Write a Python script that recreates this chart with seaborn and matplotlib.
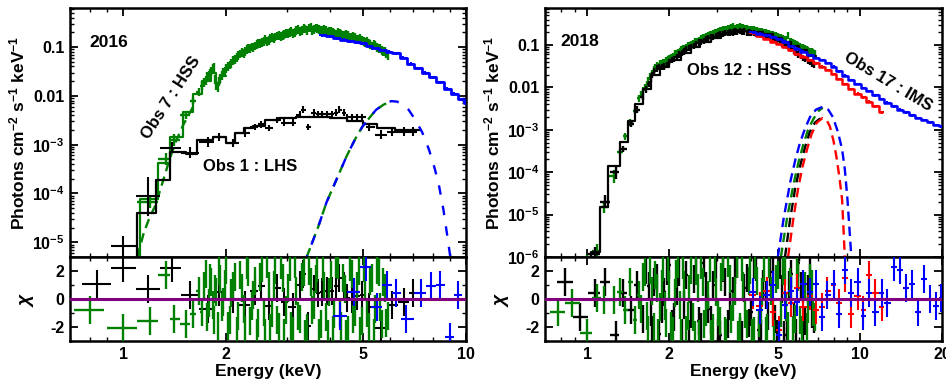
import numpy as np
import matplotlib
matplotlib.use('Agg')
import matplotlib.pyplot as plt
import seaborn as sns
from matplotlib.ticker import FixedLocator, FixedFormatter, NullFormatter, LogLocator, MultipleLocator

# ---------------- DATA : 2016 (left) ----------------
bk16_E = [0.84, 1.0, 1.18, 1.39, 1.57, 1.77, 1.91, 2.09, 2.26, 2.42, 2.53, 2.67, 2.82, 2.95, 3.12, 3.27, 3.34,
          3.47, 3.61, 3.69, 3.81, 3.94, 4.07, 4.18, 4.27, 4.41, 4.51, 4.66, 4.82, 4.98, 5.22, 5.65, 6.09, 6.6, 7.0]
bk16_F = [1e-6, 8.3e-6, 8.7e-5, 8.7e-4, 6.9e-4, 1.15e-3, 1.45e-3, 1.1e-3, 1.75e-3, 2.3e-3, 2.6e-3, 2.2e-3, 3.2e-3,
          2.8e-3, 2.8e-3, 4.1e-3, 5.2e-3, 2.3e-3, 4.5e-3, 4.2e-3, 4.2e-3, 4.2e-3, 4.2e-3, 4.5e-3, 5.2e-3, 4.5e-3,
          3.7e-3, 3.6e-3, 3.7e-3, 3.7e-3, 2.3e-3, 1.6e-3, 1.85e-3, 1.85e-3, 1.85e-3]
bk16_dex = [0.3, 0.2, 0.4, 0.12, 0.12, 0.1, 0.08, 0.08, 0.08, 0.07, 0.07, 0.07, 0.07, 0.07, 0.07, 0.07, 0.07,
            0.07, 0.07, 0.07, 0.07, 0.07, 0.07, 0.07, 0.07, 0.07, 0.07, 0.07, 0.07, 0.07, 0.08, 0.09, 0.09, 0.09, 0.09]
bk16_chi = [1.1, 2.2, 0.7, 2.2, 0.3, -0.7, 0.5, 0.0, -0.4, 0.6, 0.9, -0.5, 0.8, -0.2, -0.6, 1.0, 1.8, -1.9, 0.7,
            0.4, 0.5, 0.6, 0.6, 0.9, 1.5, 0.9, 0.1, 0.0, 0.2, 0.3, -0.6, -2.1, -0.4, -0.2, 0.4]
bk16_model_E = [1.10, 1.25, 1.37, 1.53, 1.64, 1.83, 2.00, 2.12, 2.25, 2.40, 2.60, 2.85, 3.2, 3.6, 4.0, 4.5, 5.0,
                5.5, 6.2, 7.4]
bk16_model_F = [4e-5, 1.9e-4, 7.2e-4, 6.5e-4, 1.25e-3, 1.45e-3, 1.1e-3, 1.75e-3, 2.2e-3, 2.4e-3, 3.2e-3, 3.5e-3,
                3.7e-3, 3.7e-3, 3.5e-3, 3.1e-3, 2.6e-3, 2.2e-3, 2.0e-3, 2.0e-3]

gr16_E = [0.80, 1.00, 1.20, 1.33, 1.41, 1.53, 1.60, 1.66, 1.70, 1.74, 1.78, 1.81, 1.84, 1.87, 1.90, 1.94, 1.98,
          2.02, 2.07, 2.12, 2.17, 2.22, 2.27, 2.32, 2.37, 2.42, 2.48, 2.54, 2.60, 2.66, 2.72, 2.78, 2.85, 2.92,
          2.99, 3.06, 3.13, 3.20, 3.28, 3.36, 3.44, 3.52, 3.60, 3.68, 3.77, 3.86, 3.95, 4.04, 4.13, 4.23, 4.33,
          4.43, 4.53, 4.64, 4.75, 4.86, 4.97, 5.08, 5.20, 5.32, 5.44, 5.56, 5.68, 5.80, 5.92]
gr16_F = [1e-6, 1e-6, 6.6e-5, 5e-4, 1.25e-3, 4e-3, 8e-3, 0.012, 0.016, 0.021, 0.026, 0.031, 0.038, 0.016, 0.02,
          0.026, 0.032, 0.04, 0.046, 0.055, 0.066, 0.078, 0.082, 0.092, 0.1, 0.105, 0.118, 0.125, 0.14, 0.135,
          0.155, 0.16, 0.175, 0.17, 0.19, 0.2, 0.19, 0.22, 0.21, 0.24, 0.22, 0.25, 0.23, 0.24, 0.22, 0.23, 0.2,
          0.21, 0.19, 0.2, 0.18, 0.17, 0.175, 0.155, 0.16, 0.14, 0.135, 0.125, 0.12, 0.105, 0.11, 0.095, 0.085,
          0.08, 0.068]
gr16_chi = [-0.8, -2.1, -1.6, 1.7, -1.4, -1.8, -1.1, 0.6, -0.9, 1.8, -0.3, 1.2, -1.5, 0.5, 2.0, -0.6, 1.1, -1.9,
            0.4, 1.6, -1.2, 0.8, -2.2, 1.9, -0.5, 1.3, -1.7, 2.2, -2.4, 0.9, -1.0, 2.1, -2.0, 1.5, -0.8, 2.3,
            -2.3, 0.6, -1.4, 1.9, -2.1, 1.2, -0.4, 2.2, -1.8, 0.9, -2.5, 1.7, -1.1, 2.4, -1.9, 0.7, -2.2, 1.8,
            -0.9, 2.0, -1.6, 1.1, -2.0, 1.5, -0.7, 1.9, -1.8, 0.8, -1.2]
gr16b_E = [1.72, 1.76, 1.795, 1.825, 1.855, 1.885, 1.92, 1.96, 2.00, 2.045, 2.095, 2.145, 2.195, 2.245, 2.295,
           2.345, 2.395, 2.45, 2.51, 2.57, 2.63, 2.69, 2.75, 2.815, 2.885, 2.955, 3.025, 3.095, 3.165, 3.24, 3.32,
           3.40, 3.48, 3.56, 3.64, 3.725, 3.815, 3.905, 3.995, 4.085, 4.18, 4.28, 4.38, 4.48, 4.585, 4.695, 4.805,
           4.915, 5.025, 5.14, 5.26, 5.38, 5.50, 5.62, 5.74, 5.86]
gr16b_F = [0.019, 0.025, 0.029, 0.036, 0.022, 0.015, 0.023, 0.03, 0.036, 0.043, 0.052, 0.06, 0.072, 0.075, 0.088,
           0.095, 0.098, 0.112, 0.12, 0.132, 0.128, 0.148, 0.15, 0.168, 0.165, 0.18, 0.19, 0.205, 0.2, 0.225,
           0.215, 0.235, 0.245, 0.22, 0.245, 0.23, 0.215, 0.22, 0.205, 0.2, 0.185, 0.19, 0.17, 0.18, 0.16, 0.165,
           0.145, 0.15, 0.13, 0.128, 0.112, 0.115, 0.098, 0.092, 0.082, 0.075]
gr16b_chi = [0.9, -1.3, 1.5, -0.4, 0.7, -1.9, 1.4, -0.2, 2.1, -1.5, 0.9, -2.3, 1.7, -0.7, 2.4, -1.6, 0.3, -2.4,
             1.6, -0.9, 2.5, -2.1, 1.0, -1.5, 2.4, -2.4, 0.8, -1.9, 2.5, -1.2, 1.6, -2.5, 2.0, -0.8, 1.4, -2.4,
             2.3, -1.3, 0.5, -2.2, 2.5, -1.0, 1.5, -2.5, 2.3, -1.4, 0.9, -2.3, 2.2, -1.0, 1.3, -2.4, 2.1, -0.6,
             1.2, -1.7]
gr16_model_E = [1.12, 1.26, 1.37, 1.50, 1.60, 1.70, 1.80, 1.86, 1.92, 2.0]
gr16_model_F = [7.6e-5, 4.3e-4, 1.45e-3, 4.7e-3, 0.011, 0.02, 0.03, 0.018, 0.025, 0.025]
gr16_cont_E = [1.10, 1.15, 1.20, 1.24, 1.30, 1.36, 1.42, 1.50, 1.60]
gr16_cont_F = [5e-6, 1.6e-5, 3.5e-5, 5.5e-5, 1.6e-4, 4.5e-4, 1.1e-3, 2.6e-3, 6e-3]

bl16_E = [3.81, 4.0, 4.2, 4.4, 4.6, 4.8, 5.0, 5.2, 5.45, 5.7, 5.95, 6.25, 6.55, 6.9, 7.25, 7.6, 8.0, 8.4, 8.8,
          9.25, 9.7, 10.0]
bl16_F = [0.176, 0.165, 0.15, 0.14, 0.13, 0.125, 0.12, 0.105, 0.095, 0.087, 0.08, 0.075, 0.06, 0.045, 0.037,
          0.03, 0.024, 0.019, 0.014, 0.011, 0.0085, 0.0072]
bl16_res_E = [4.3, 4.7, 5.1, 5.5, 5.9, 6.25, 6.7, 7.4, 7.9, 8.4, 9.0, 9.5]
bl16_chi = [-1.2, 0.5, 2.3, -0.6, 1.0, 0.4, -1.4, 0.4, 0.9, 1.0, -2.7, 0.3]

gauss16_E = [3.43, 3.7, 3.92, 4.2, 4.48, 4.75, 4.98, 5.22, 5.47, 5.75, 6.05, 6.3, 6.55, 6.8, 7.1, 7.45, 7.8,
             8.1, 8.35, 8.6, 8.8, 9.0]
gauss16_F = [5e-6, 2e-5, 6.6e-5, 2e-4, 5.7e-4, 1.3e-3, 2.3e-3, 3.5e-3, 5.2e-3, 6.6e-3, 7.8e-3, 7.6e-3, 6.5e-3,
             5.2e-3, 3.3e-3, 1.8e-3, 7.9e-4, 3.3e-4, 1.4e-4, 4.5e-5, 1.5e-5, 5e-6]

# ---------------- DATA : 2018 (right) ----------------
gr18_E = [0.78, 0.88, 1.00, 1.09, 1.15, 1.25, 1.32, 1.38, 1.44, 1.50, 1.55, 1.60, 1.65, 1.70, 1.75, 1.80, 1.85,
          1.90, 1.95, 2.00, 2.06, 2.12, 2.18, 2.24, 2.30, 2.37, 2.44, 2.51, 2.58, 2.65, 2.73, 2.81, 2.89, 2.97,
          3.06, 3.15, 3.24, 3.33, 3.43, 3.53, 3.63, 3.74, 3.85, 3.96, 4.08, 4.20, 4.32, 4.45, 4.58, 4.71, 4.85,
          4.99, 5.14, 5.29, 5.44, 5.60, 5.77, 5.94, 6.11, 6.29, 6.47, 6.66, 6.85]
gr18_F = [3e-7, 4e-7, 8e-7, 1.4e-6, 1.5e-5, 8e-5, 3e-4, 7e-4, 1.5e-3, 2.8e-3, 5.5e-3, 8.5e-3, 0.012, 0.018,
          0.026, 0.033, 0.036, 0.04, 0.043, 0.048, 0.055, 0.065, 0.07, 0.082, 0.09, 0.1, 0.11, 0.125, 0.13, 0.15,
          0.16, 0.18, 0.19, 0.2, 0.22, 0.23, 0.24, 0.25, 0.27, 0.26, 0.27, 0.26, 0.25, 0.24, 0.23, 0.22, 0.21,
          0.2, 0.19, 0.18, 0.17, 0.16, 0.15, 0.14, 0.17, 0.12, 0.11, 0.1, 0.09, 0.085, 0.075, 0.07, 0.065]
gr18_chi = [-0.9, -0.3, -2.4, 0.1, -0.1, -0.1, 0.5, -0.8, 1.2, -1.5, 0.3, 1.6, -1.2, 2.1, -2.0, 0.8, -0.6, 2.3,
            -1.7, 1.0, -2.3, 1.8, -0.4, 2.4, -2.2, 0.7, -1.3, 2.0, -2.5, 1.2, -0.9, 2.2, -2.1, 0.5, -1.6, 2.3,
            -2.4, 1.4, -0.6, 2.5, -2.0, 0.9, -1.8, 2.1, -2.3, 1.3, -0.8, 2.2, -2.1, 0.6, -2.5, 1.7, -1.0, 2.0,
            -1.9, 0.8, -1.4, 1.6, -2.2, 0.9, -0.7, 1.1, -1.3]
gr18b_E = [1.575, 1.625, 1.675, 1.725, 1.775, 1.825, 1.875, 1.925, 1.975, 2.03, 2.09, 2.15, 2.21, 2.27, 2.335,
           2.405, 2.475, 2.545, 2.615, 2.69, 2.77, 2.85, 2.93, 3.015, 3.105, 3.195, 3.285, 3.38, 3.48, 3.58,
           3.685, 3.795, 3.905, 4.02, 4.14, 4.26, 4.385, 4.515, 4.645, 4.78, 4.92, 5.065, 5.215, 5.365, 5.52,
           5.685, 5.855, 6.025, 6.2, 6.38, 6.565, 6.755]
gr18b_F = [7e-3, 0.01, 0.015, 0.022, 0.029, 0.032, 0.037, 0.039, 0.046, 0.05, 0.062, 0.066, 0.078, 0.085, 0.097,
           0.105, 0.12, 0.125, 0.142, 0.152, 0.17, 0.182, 0.195, 0.21, 0.225, 0.232, 0.245, 0.26, 0.25, 0.265,
           0.255, 0.25, 0.24, 0.235, 0.225, 0.215, 0.205, 0.195, 0.185, 0.175, 0.165, 0.155, 0.145, 0.135, 0.125,
           0.115, 0.105, 0.095, 0.088, 0.08, 0.072, 0.067]
gr18b_chi = [-0.7, 1.9, -2.2, 0.6, 1.7, -2.4, 1.1, -0.5, 2.3, -1.9, 0.4, 2.5, -2.4, 1.0, -1.2, 2.1, -2.6, 0.8,
             2.4, -1.8, 0.3, -2.5, 2.2, -0.9, 1.6, -2.3, 2.6, -1.4, 0.6, -2.6, 2.3, -1.1, 1.3, -2.4, 2.4, -1.7,
             0.5, -2.3, 2.5, -1.0, 1.4, -2.6, 2.0, -0.6, 1.2, -2.2, 1.9, -1.5, 0.7, -2.0, 1.5, -0.9]

bk18_E = [0.83, 0.94, 1.07, 1.16, 1.27, 1.35, 1.45, 1.52, 1.60, 1.68, 1.73, 1.80, 1.88, 1.96, 2.04, 2.13, 2.22,
          2.31, 2.41, 2.51, 2.62, 2.73, 2.84, 2.96, 3.08, 3.21, 3.34, 3.48, 3.62, 3.77, 3.92, 4.08, 4.25, 4.42,
          4.60, 4.79, 4.98, 5.18, 5.39, 5.61, 5.84, 6.07, 6.31, 6.56, 6.80]
bk18_F = [3e-7, 5e-7, 1.2e-6, 2e-5, 1e-4, 3.5e-4, 1.4e-3, 3e-3, 6e-3, 0.012, 0.02, 0.028, 0.03, 0.034, 0.045,
          0.052, 0.065, 0.078, 0.09, 0.105, 0.12, 0.14, 0.15, 0.165, 0.18, 0.19, 0.2, 0.21, 0.215, 0.21, 0.2,
          0.19, 0.18, 0.17, 0.155, 0.14, 0.125, 0.11, 0.095, 0.08, 0.065, 0.055, 0.047, 0.04, 0.035]
bk18_chi = [1.2, -1.3, 0.4, 1.2, -2.6, 0.4, -0.8, 1.0, -1.4, 0.9, -2.2, 1.5, -0.7, 2.0, -1.8, 0.6, -2.4, 1.7,
            -1.1, 2.3, -2.0, 0.9, -1.5, 2.4, -2.6, 1.2, -0.5, 2.1, -2.3, 0.8, -1.7, 2.5, -2.2, 1.1, -1.2, 2.2,
            -2.5, 0.7, -1.9, 1.8, -2.4, 0.9, -1.6, 2.0, -1.4]
bk18b_E = [1.64, 1.71, 1.76, 1.84, 1.92, 2.00, 2.08, 2.17, 2.26, 2.36, 2.46, 2.56, 2.67, 2.78, 2.90, 3.02, 3.14,
           3.27, 3.41, 3.55, 3.70, 3.85, 4.00, 4.16, 4.33, 4.51, 4.69, 4.88, 5.08, 5.28, 5.50, 5.72, 5.95, 6.19,
           6.43, 6.68]
bk18b_F = [9e-3, 0.016, 0.024, 0.03, 0.031, 0.04, 0.047, 0.06, 0.07, 0.085, 0.095, 0.115, 0.125, 0.145, 0.155,
           0.175, 0.18, 0.195, 0.2, 0.205, 0.205, 0.195, 0.195, 0.18, 0.175, 0.16, 0.15, 0.13, 0.12, 0.1, 0.088,
           0.072, 0.06, 0.05, 0.043, 0.037]
bk18b_chi = [2.1, -0.9, 1.2, -2.5, 0.5, 2.4, -1.3, 1.9, -0.4, -2.5, 1.4, -1.6, 2.6, -0.7, 1.0, -2.4, 2.2, -1.8,
             0.6, 2.5, -2.6, 1.5, -0.9, 2.3, -2.5, 0.3, 1.9, -1.4, 2.4, -2.6, 1.0, -1.2, 2.6, -2.3, 0.7, -1.1]
bk18_model_E = [1.03, 1.116, 1.19, 1.32, 1.41, 1.50, 1.60, 1.72, 1.85, 2.0, 2.2, 2.4, 2.6, 2.85, 3.1, 3.4, 3.7,
                4.0, 4.4, 4.8, 5.2, 5.6, 6.0, 6.4, 6.9]
bk18_model_F = [1.3e-6, 1.5e-5, 1.4e-4, 5.3e-4, 1.6e-3, 4e-3, 9e-3, 0.02, 0.03, 0.045, 0.065, 0.09, 0.12, 0.15,
                0.18, 0.2, 0.21, 0.2, 0.18, 0.15, 0.12, 0.095, 0.075, 0.055, 0.055]

bl18_E = [4.05, 4.3, 4.55, 4.8, 5.05, 5.3, 5.6, 5.9, 6.2, 6.55, 6.9, 7.25, 7.6, 8.0, 8.4, 8.85, 9.3, 9.8, 10.3,
          10.8, 11.4, 12.0, 12.6, 13.3, 14.0, 14.7, 15.5, 16.3, 17.2, 18.1, 19.0, 19.9]
bl18_F = [0.20, 0.185, 0.17, 0.155, 0.14, 0.12, 0.095, 0.082, 0.07, 0.058, 0.05, 0.044, 0.038, 0.031, 0.024,
          0.019, 0.015, 0.012, 0.0097, 0.0082, 0.0065, 0.0053, 0.0044, 0.0036, 0.003, 0.0026, 0.0022, 0.0019,
          0.0017, 0.0015, 0.0013, 0.0012]
bl18_chi = [0.5, -0.8, 0.3, 1.0, -2.6, -0.4, 0.6, -0.2, 1.1, 0.5, 1.1, -1.3, 0.3, 1.1, -1.1, 2.1, 0.4, 1.2,
            -1.2, 0.4, -0.9, 0.4, -0.3, 2.3, 2.1, 0.8, 1.1, -0.9, 1.4, 0.0, -0.5, 0.1]

rd18_E = [4.05, 4.3, 4.55, 4.8, 5.05, 5.3, 5.6, 5.9, 6.2, 6.55, 6.9, 7.25, 7.6, 8.0, 8.4, 8.85, 9.3, 9.8, 10.3,
          10.8, 11.4, 12.0]
rd18_F = [0.19, 0.16, 0.14, 0.12, 0.105, 0.09, 0.075, 0.062, 0.053, 0.045, 0.037, 0.031, 0.026, 0.021, 0.016,
          0.012, 0.0093, 0.0072, 0.0058, 0.0046, 0.0036, 0.0026]
rd18_chi = [0.3, -0.5, 0.6, -0.9, -2.2, 0.4, -0.3, 0.8, -0.6, 0.2, -0.8, -0.6, 0.6, 1.0, -0.3, 1.5, -1.1, 0.2,
            -0.8, 1.7, 0.4, -0.6]

bl18_gauss_E = [5.0, 5.25, 5.55, 5.8, 6.03, 6.3, 6.56, 6.9, 7.3, 7.65, 7.96, 8.3, 8.6, 8.8, 9.0, 9.3]
bl18_gauss_F = [1e-6, 8e-6, 5.8e-5, 2e-4, 5e-4, 1.1e-3, 2e-3, 3e-3, 3.5e-3, 3e-3, 2e-3, 9e-4, 3.5e-4, 1.2e-4,
                2.3e-5, 1e-6]
rd18_gauss_E = [5.45, 5.7, 5.93, 6.15, 6.4, 6.65, 6.96, 7.3, 7.55, 7.76, 8.0, 8.2, 8.4, 8.6, 8.8]
rd18_gauss_F = [1e-6, 8e-6, 4e-5, 1.3e-4, 3.5e-4, 8e-4, 1.5e-3, 1.9e-3, 1.7e-3, 1.2e-3, 5.5e-4, 2.3e-4, 8e-5,
                2.3e-5, 1e-6]
gr18_gauss_E = [5.13, 5.4, 5.7, 5.95, 6.2, 6.45, 6.75, 7.05, 7.3]
gr18_gauss_F = [1e-6, 8e-6, 5e-5, 1.7e-4, 4.5e-4, 1e-3, 1.8e-3, 2.8e-3, 3.3e-3]
bk18_gauss_E = [5.31, 5.55, 5.8, 6.05, 6.3, 6.55, 6.85, 7.1, 7.3]
bk18_gauss_F = [1e-6, 8e-6, 4.5e-5, 1.5e-4, 4e-4, 9e-4, 1.5e-3, 1.8e-3, 1.9e-3]

# ---------------- STYLE ----------------
sns.set_theme(style='ticks')
plt.rcParams['font.family'] = ['Liberation Sans', 'DejaVu Sans']
plt.rcParams.update({
    'font.weight': 'bold', 'axes.labelweight': 'bold',
    'mathtext.fontset': 'custom', 'mathtext.rm': 'Liberation Sans:bold', 'mathtext.bf': 'Liberation Sans:bold',
    'mathtext.it': 'Liberation Sans:italic:bold', 'mathtext.default': 'bf',
    'text.color': 'black', 'axes.labelcolor': 'black', 'axes.edgecolor': 'black',
    'xtick.color': 'black', 'ytick.color': 'black',
})

GREEN, BLUE, RED, BLACK, PURPLE = '#008000', '#0000ff', '#ff0000', '#000000', '#800080'
DASH = (0, (4, 2.4))


def merge(*pairs):
    E = np.concatenate([np.asarray(p[0], float) for p in pairs])
    order = np.argsort(E, kind='stable')
    rest = [np.concatenate([np.asarray(p[k], float) for p in pairs])[order] for k in range(1, len(pairs[0]))]
    return [E[order]] + rest


def xerrs(E, cap=0.1):
    E = np.asarray(E, float)
    lo = np.empty_like(E)
    hi = np.empty_like(E)
    d = np.diff(E)
    lo[1:] = d / 2
    hi[:-1] = d / 2
    lo[0] = hi[0]
    hi[-1] = lo[-1]
    return np.vstack([np.minimum(lo, cap * E), np.minimum(hi, cap * E)])


def spec(ax, E, F, dex, color, lw=1.5, z=3):
    F = np.asarray(F, float)
    dex = np.asarray(dex, float) * np.ones_like(F)
    yerr = np.vstack([F * (1 - 10 ** -dex), F * (10 ** dex - 1)])
    ax.errorbar(E, F, xerr=xerrs(E), yerr=yerr, fmt='none', ecolor=color, elinewidth=lw, capsize=0, zorder=z)


def resid(ax, E, chi, color, lw=1.5, z=3):
    ax.errorbar(E, chi, xerr=xerrs(E), yerr=np.ones(len(chi)), fmt='none', ecolor=color, elinewidth=lw,
                capsize=0, zorder=z)


def step(ax, E, F, color, lw=1.6, where='post', z=4):
    sns.lineplot(x=E, y=F, ax=ax, color=color, lw=lw, drawstyle='steps-' + where, estimator=None,
                 legend=False, zorder=z)


def dashed(ax, E, F, color, lw=1.7, z=5, ls=DASH):
    sns.lineplot(x=E, y=F, ax=ax, color=color, lw=lw, linestyle=ls, estimator=None, legend=False, zorder=z)


def style_axes(ax_main, ax_res, xlim, ylim, xt, yt, ytl):
    for ax in (ax_main, ax_res):
        ax.set_xscale('log')
        ax.set_xlim(*xlim)
        ax.xaxis.set_major_locator(FixedLocator(xt))
        ax.xaxis.set_minor_locator(LogLocator(base=10, subs=np.arange(1, 10)))
        ax.xaxis.set_minor_formatter(NullFormatter())
        ax.tick_params(which='both', direction='in', top=True, right=True, labelsize=11.5, pad=4)
        ax.tick_params(which='major', length=6, width=1.3)
        ax.tick_params(which='minor', length=3, width=1.0)
        for s in ax.spines.values():
            s.set_linewidth(1.8)
            s.set_color('black')
    ax_main.set_yscale('log')
    ax_main.set_ylim(*ylim)
    ax_main.yaxis.set_major_locator(FixedLocator(yt))
    ax_main.yaxis.set_major_formatter(FixedFormatter(ytl))
    ax_main.yaxis.set_minor_locator(LogLocator(base=10, subs=np.arange(2, 10)))
    ax_main.yaxis.set_minor_formatter(NullFormatter())
    ax_main.xaxis.set_major_formatter(NullFormatter())
    ax_main.set_xlabel('')
    ax_main.set_ylabel('Photons cm$^{-2}$ s$^{-1}$ keV$^{-1}$', fontsize=12.5, labelpad=3)
    ax_res.set_ylim(-3, 3)
    ax_res.yaxis.set_major_locator(FixedLocator([-2, 0, 2]))
    ax_res.yaxis.set_major_formatter(FixedFormatter(['-2', '0', '2']))
    ax_res.yaxis.set_minor_locator(MultipleLocator(1))
    ax_res.xaxis.set_major_formatter(FixedFormatter([str(v) for v in xt]))
    ax_res.set_xlabel('Energy (keV)', fontsize=12.5, labelpad=2)
    ax_res.set_ylabel('$\\mathit{\\chi}$', fontsize=14, labelpad=10)
    ax_res.axhline(0, color=PURPLE, lw=2.2, zorder=10)


fig = plt.figure(figsize=(9.46, 3.81), dpi=100)
axL = fig.add_axes([0.0740, 0.3255, 0.4186, 0.6535])
axLr = fig.add_axes([0.0740, 0.1050, 0.4186, 0.2205])
axR = fig.add_axes([0.5761, 0.3255, 0.4197, 0.6535])
axRr = fig.add_axes([0.5761, 0.1050, 0.4197, 0.2205])

# ---------- left main ----------
g16E, g16F, g16C = merge((gr16_E, gr16_F, gr16_chi), (gr16b_E, gr16b_F, gr16b_chi))
g16dex = np.where(g16E < 1.1, 0.3, np.where(g16E < 1.45, 0.12, np.where(g16E < 1.65, 0.08, 0.09)))
spec(axL, g16E, g16F, g16dex, GREEN, lw=1.7, z=3)
step(axL, [1.12] + gr16_model_E, [1e-8] + gr16_model_F, GREEN, z=4)
dashed(axL, gr16_cont_E, gr16_cont_F, GREEN)
spec(axL, bk16_E, bk16_F, bk16_dex, BLACK, z=5)
step(axL, [1.10] + bk16_model_E, [1e-8] + bk16_model_F, BLACK, z=5)
spec(axL, bl16_E, bl16_F, 0.03, BLUE, z=6)
step(axL, bl16_E, bl16_F, BLUE, lw=2.0, where='mid', z=6)
dashed(axL, gauss16_E[:11], gauss16_F[:11], GREEN, z=7)
dashed(axL, gauss16_E, gauss16_F, BLUE, z=8, ls=(3.2, (4, 4.8)))

axL.text(0.05, 0.86, '2016', transform=axL.transAxes, fontsize=12.5, fontweight='bold', ha='left', va='center')
axL.text(0.255, 0.64, 'Obs 7 : HSS', transform=axL.transAxes, fontsize=12, fontweight='bold', ha='center',
         va='center', rotation=57, rotation_mode='anchor')
axL.text(0.455, 0.365, 'Obs 1 : LHS', transform=axL.transAxes, fontsize=12, fontweight='bold', ha='center',
         va='center')

# ---------- left residual ----------
resid(axLr, bk16_E, bk16_chi, BLACK, z=3)
resid(axLr, g16E, g16C, GREEN, lw=1.7, z=4)
resid(axLr, bl16_res_E, bl16_chi, BLUE, z=5)

style_axes(axL, axLr, (0.7, 10), (5e-6, 0.63), [1, 2, 5, 10], [1e-5, 1e-4, 1e-3, 1e-2, 1e-1],
           ['$10^{-5}$', '$10^{-4}$', '$10^{-3}$', '0.01', '0.1'])

# ---------- right main ----------
g18E, g18F, g18C = merge((gr18_E, gr18_F, gr18_chi), (gr18b_E, gr18b_F, gr18b_chi))
b18E, b18F, b18C = merge((bk18_E, bk18_F, bk18_chi), (bk18b_E, bk18b_F, bk18b_chi))
spec(axR, g18E, g18F, np.where(g18E < 1.3, 0.15, 0.08), GREEN, lw=1.7, z=3)
spec(axR, b18E, b18F, np.where(b18E < 1.3, 0.15, 0.075), BLACK, lw=1.7, z=4)
step(axR, [1.03] + bk18_model_E, [1e-8] + bk18_model_F, BLACK, z=5)
spec(axR, rd18_E, rd18_F, 0.03, RED, z=6)
step(axR, rd18_E, rd18_F, RED, lw=1.8, where='mid', z=6)
spec(axR, bl18_E, bl18_F, 0.03, BLUE, z=6)
step(axR, bl18_E, bl18_F, BLUE, lw=1.8, where='mid', z=6)
dashed(axR, gr18_gauss_E, gr18_gauss_F, GREEN, z=7)
dashed(axR, bk18_gauss_E, bk18_gauss_F, BLACK, z=7)
dashed(axR, bl18_gauss_E, bl18_gauss_F, BLUE, z=8)
dashed(axR, rd18_gauss_E, rd18_gauss_F, RED, z=8)

axR.text(0.04, 0.865, '2018', transform=axR.transAxes, fontsize=12.5, fontweight='bold', ha='left', va='center')
axR.text(0.49, 0.75, 'Obs 12 : HSS', transform=axR.transAxes, fontsize=12, fontweight='bold', ha='center',
         va='center')
axR.text(0.865, 0.705, 'Obs 17 : IMS', transform=axR.transAxes, fontsize=12, fontweight='bold', ha='center',
         va='center', rotation=-31, rotation_mode='anchor')

# ---------- right residual ----------
resid(axRr, b18E, b18C, BLACK, lw=1.7, z=3)
resid(axRr, g18E, g18C, GREEN, lw=1.7, z=4)
resid(axRr, rd18_E, rd18_chi, RED, z=5)
resid(axRr, bl18_E, bl18_chi, BLUE, z=6)

style_axes(axR, axRr, (0.7, 20), (1e-6, 0.75), [1, 2, 5, 10, 20], [1e-6, 1e-5, 1e-4, 1e-3, 1e-2, 1e-1],
           ['$10^{-6}$', '$10^{-5}$', '$10^{-4}$', '$10^{-3}$', '0.01', '0.1'])

fig.savefig('out.png', dpi=100)
